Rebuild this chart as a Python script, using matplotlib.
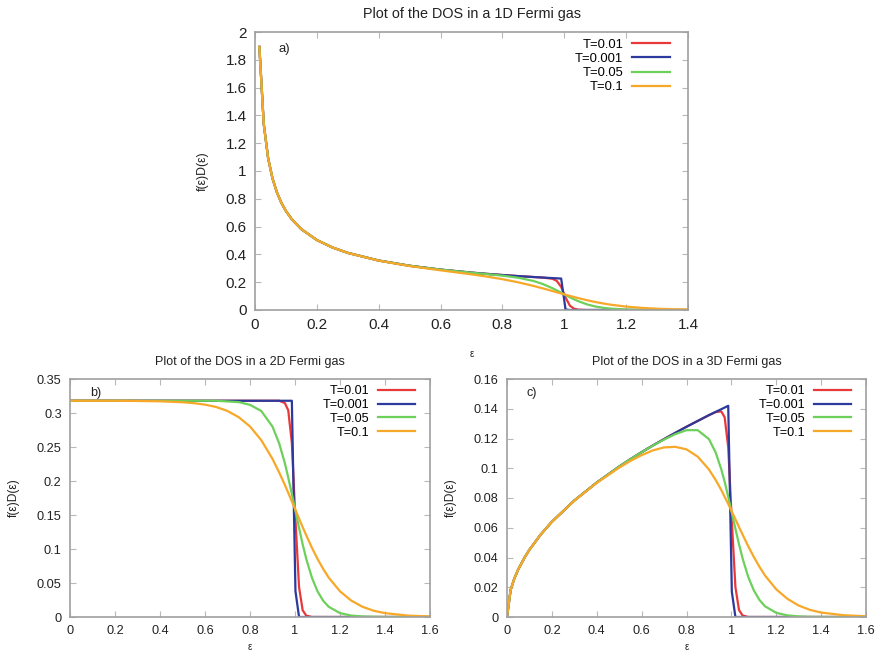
import matplotlib
matplotlib.use("Agg")
import matplotlib.pyplot as plt

plt.rcParams['font.family'] = ['Liberation Sans', 'DejaVu Sans']

labels = ["T=0.01", "T=0.001", "T=0.05", "T=0.1"]
colors = ["#e8383a", "#2b3a9c", "#6cd05a", "#f8a828"]

# ---- panel a: 1D ----
eps_1d = [0.0141, 0.0283, 0.0424, 0.0566, 0.0707, 0.0849, 0.1, 0.12, 0.15, 0.2,
          0.25, 0.3, 0.4, 0.5, 0.6, 0.7, 0.75, 0.8, 0.85, 0.9, 0.93, 0.9616,
          0.9757, 0.9899, 1.0041, 1.0182, 1.0323, 1.0465, 1.075, 1.1, 1.125,
          1.15, 1.2, 1.25, 1.3, 1.35, 1.4]
a_t001 = [1.893, 1.338, 1.093, 0.946, 0.847, 0.7725, 0.7119, 0.6498, 0.5812, 0.5034,
          0.4502, 0.4110, 0.3559, 0.3183, 0.2906, 0.2690, 0.2599, 0.2517, 0.2441, 0.2373,
          0.2334, 0.2248, 0.2094, 0.1659, 0.0897, 0.0310, 0.0084, 0.0021, 0, 0, 0,
          0, 0, 0, 0, 0, 0]
a_t0001 = [1.893, 1.338, 1.093, 0.946, 0.847, 0.7725, 0.7119, 0.6498, 0.5812, 0.5034,
           0.4502, 0.4110, 0.3559, 0.3183, 0.2906, 0.2690, 0.2599, 0.2517, 0.2441, 0.2373,
           0.2334, 0.2296, 0.2279, 0.2263, 0.0037, 0, 0, 0, 0, 0, 0,
           0, 0, 0, 0, 0, 0]
a_t005 = [1.893, 1.338, 1.093, 0.946, 0.847, 0.7725, 0.7119, 0.6498, 0.5812, 0.5034,
          0.4502, 0.4110, 0.3559, 0.3183, 0.2905, 0.2683, 0.2581, 0.2472, 0.2326, 0.2091,
          0.1872, 0.1568, 0.1411, 0.1245, 0.1079, 0.0915, 0.0762, 0.0623, 0.0395, 0.0255, 0.0161,
          0.0099, 0.0037, 0.0013, 0.0005, 0.0002, 0.0001]
a_t01 = [1.893, 1.338, 1.093, 0.946, 0.847, 0.7725, 0.7119, 0.6498, 0.5812, 0.5034,
         0.4502, 0.4106, 0.3550, 0.3161, 0.2854, 0.2564, 0.2402, 0.2217, 0.1997, 0.1735,
         0.1559, 0.1366, 0.1276, 0.1188, 0.1101, 0.1015, 0.0931, 0.0849, 0.0697, 0.0577, 0.0473,
         0.0382, 0.0245, 0.0153, 0.0093, 0.0056, 0.0034]

# ---- panel b: 2D ----
eps_2d = [0, 0.1, 0.2, 0.3, 0.4, 0.5, 0.55, 0.6, 0.65, 0.7, 0.75, 0.8, 0.85, 0.9,
          0.93, 0.955, 0.970, 0.986, 1.002, 1.018, 1.034, 1.05, 1.075, 1.1, 1.125,
          1.15, 1.2, 1.25, 1.3, 1.35, 1.4, 1.5, 1.6]
b_t001 = [0.318, 0.318, 0.318, 0.318, 0.318, 0.318, 0.318, 0.318, 0.318, 0.318, 0.318, 0.318, 0.318, 0.318,
          0.318, 0.3146, 0.304, 0.256, 0.143, 0.044, 0.010, 0.002, 0, 0, 0,
          0, 0, 0, 0, 0, 0, 0, 0]
b_t0001 = [0.318, 0.318, 0.318, 0.318, 0.318, 0.318, 0.318, 0.318, 0.318, 0.318, 0.318, 0.318, 0.318, 0.318,
           0.318, 0.318, 0.318, 0.318, 0.038, 0, 0, 0, 0, 0, 0,
           0, 0, 0, 0, 0, 0, 0, 0]
b_t005 = [0.318, 0.318, 0.318, 0.318, 0.318, 0.318, 0.318, 0.318, 0.318, 0.317, 0.316, 0.312, 0.303, 0.280,
          0.255, 0.226, 0.205, 0.181, 0.156, 0.131, 0.107, 0.0855, 0.058, 0.0378, 0.024,
          0.0150, 0.0057, 0.0021, 0.0008, 0.0003, 0, 0, 0]
b_t01 = [0.318, 0.318, 0.318, 0.3177, 0.3172, 0.3158, 0.3145, 0.3123, 0.3088, 0.3030, 0.2938, 0.2802, 0.2601, 0.2325,
         0.2124, 0.1942, 0.1826, 0.1701, 0.1574, 0.1447, 0.1322, 0.1202, 0.1020, 0.0855, 0.0708,
         0.0579, 0.0378, 0.0241, 0.0150, 0.0092, 0.0057, 0.0021, 0.0008]

# ---- panel c: 3D ----
eps_3d = [0, 0.0162, 0.0323, 0.05, 0.08, 0.1, 0.15, 0.2, 0.3, 0.4, 0.5, 0.55, 0.6,
          0.65, 0.7, 0.75, 0.8, 0.85, 0.9, 0.93, 0.955, 0.970, 0.986, 1.002, 1.018,
          1.034, 1.05, 1.075, 1.1, 1.125, 1.15, 1.2, 1.25, 1.3, 1.35, 1.4, 1.5, 1.6]
c_t001 = [0, 0.0182, 0.0257, 0.0320, 0.0404, 0.0452, 0.0554, 0.0640, 0.0783, 0.0904, 0.1011, 0.1061, 0.1108,
          0.1153, 0.1196, 0.1238, 0.1279, 0.1318, 0.1357, 0.1378, 0.1382, 0.1343, 0.1142, 0.0644, 0.0201,
          0.0047, 0.0010, 0, 0, 0, 0, 0, 0, 0, 0, 0, 0, 0]
c_t0001 = [0, 0.0182, 0.0257, 0.0320, 0.0404, 0.0452, 0.0554, 0.0640, 0.0783, 0.0904, 0.1011, 0.1061, 0.1108,
           0.1153, 0.1196, 0.1238, 0.1279, 0.1318, 0.1357, 0.1379, 0.1397, 0.1408, 0.1420, 0.0170, 0,
           0, 0, 0, 0, 0, 0, 0, 0, 0, 0, 0, 0, 0]
c_t005 = [0, 0.0182, 0.0257, 0.0320, 0.0404, 0.0452, 0.0554, 0.0640, 0.0783, 0.0904, 0.1011, 0.1061, 0.1108,
          0.1152, 0.1193, 0.1229, 0.1256, 0.1256, 0.1196, 0.1106, 0.0993, 0.0910, 0.0808, 0.0701, 0.0593,
          0.0489, 0.0394, 0.0270, 0.0179, 0.0115, 0.0072, 0.0028, 0.0011, 0.0004, 0.0001, 0, 0, 0]
c_t01 = [0, 0.0182, 0.0257, 0.0320, 0.0404, 0.0452, 0.0554, 0.0640, 0.0782, 0.0902, 0.1004, 0.1049, 0.1088,
         0.1120, 0.1140, 0.1144, 0.1127, 0.1078, 0.0992, 0.0921, 0.0854, 0.0808, 0.0760, 0.0708, 0.0657,
         0.0605, 0.0554, 0.0476, 0.0404, 0.0338, 0.0279, 0.0186, 0.0122, 0.0077, 0.0048, 0.0030, 0.0012, 0.0005]

W, H = 880, 659
fig = plt.figure(figsize=(8.8, 6.59), dpi=100)


def box(x0, y0, x1, y1):
    return [x0 / W, 1 - y1 / H, (x1 - x0) / W, (y1 - y0) / H]


def style(ax, tsize):
    for s in ax.spines.values():
        s.set_color("#a0a0a0")
        s.set_linewidth(1.2)
    ax.tick_params(direction="in", length=4, color="#b8b8b8", labelsize=tsize,
                   labelcolor="#222222", top=True, right=True, pad=6)


panels = [
    (box(255, 32, 688, 310), eps_1d, [a_t001, a_t0001, a_t005, a_t01],
     "Plot of the DOS in a 1D Fermi gas", "a)", (0, 1.4), (0, 2),
     [0, 0.2, 0.4, 0.6, 0.8, 1, 1.2, 1.4], [0, 0.2, 0.4, 0.6, 0.8, 1, 1.2, 1.4, 1.6, 1.8, 2],
     11, 10.4, 9.4, 12),
    (box(70, 379, 430, 617), eps_2d, [b_t001, b_t0001, b_t005, b_t01],
     "Plot of the DOS in a 2D Fermi gas", "b)", (0, 1.6), (0, 0.35),
     [0, 0.2, 0.4, 0.6, 0.8, 1, 1.2, 1.4, 1.6], [0, 0.05, 0.1, 0.15, 0.2, 0.25, 0.3, 0.35],
     9.2, 9, 9.1, 3),
    (box(507, 379, 866, 617), eps_3d, [c_t001, c_t0001, c_t005, c_t01],
     "Plot of the DOS in a 3D Fermi gas", "c)", (0, 1.6), (0, 0.16),
     [0, 0.2, 0.4, 0.6, 0.8, 1, 1.2, 1.4, 1.6], [0, 0.02, 0.04, 0.06, 0.08, 0.1, 0.12, 0.14, 0.16],
     9.2, 9, 9.1, 3),
]

for rect, xs, series, title, tag, xl, yl, xt, yt, tsize, titsize, lsize, xpad in panels:
    ax = fig.add_axes(rect)
    for ys, lab, col in zip(series, labels, colors):
        ax.plot(xs, ys, color=col, lw=1.6, label=lab)
    ax.set_xlim(*xl)
    ax.set_ylim(*yl)
    ax.set_xticks(xt)
    ax.set_yticks(yt)
    ax.set_xticklabels([f"{v:g}" for v in xt])
    ax.set_yticklabels([f"{v:g}" for v in yt])
    style(ax, tsize)
    ax.set_title(title, fontsize=titsize, color="#222222", pad=10)
    ax.set_xlabel("ε", fontsize=7, color="#222222", labelpad=xpad)
    ax.set_ylabel("f(ε)D(ε)", fontsize=lsize * 0.95, color="#222222", labelpad=12)
    ax.text(0.055, 0.94, tag, transform=ax.transAxes, fontsize=lsize, color="#222222",
            va="center")
    ax.legend(loc="upper right", bbox_to_anchor=(0.965, 0.985), frameon=False,
              markerfirst=False, fontsize=lsize, handlelength=2.9, handletextpad=0.7,
              labelspacing=0.15, borderpad=0.2, borderaxespad=0)

fig.savefig("out.png", dpi=100)
